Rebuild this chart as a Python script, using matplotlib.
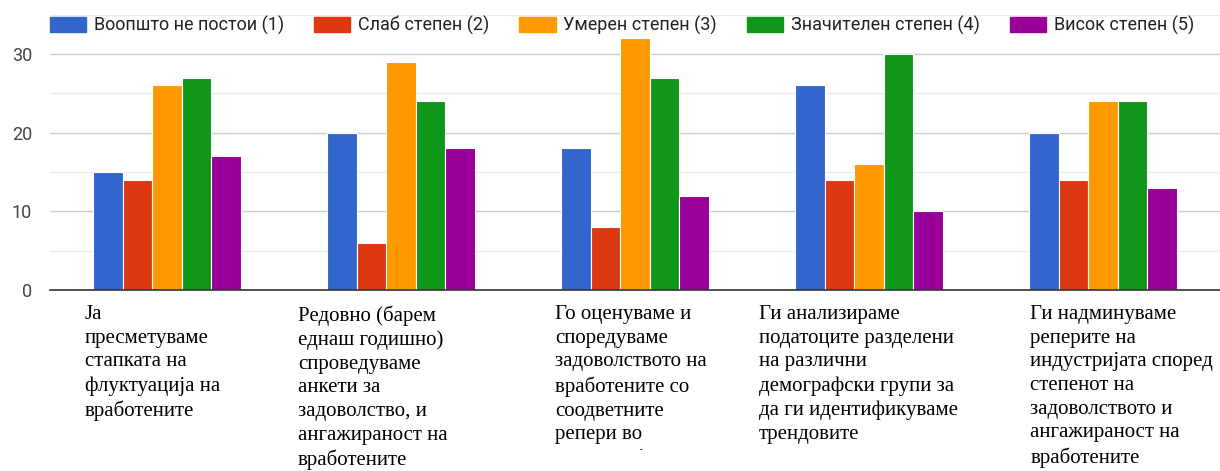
import numpy as np
import matplotlib
matplotlib.use('Agg')
import matplotlib.pyplot as plt
from matplotlib.patches import Patch
from matplotlib.transforms import Bbox, TransformedBbox

# Data
categories = [
    'Ја\nпресметуваме\nстапката на\nфлуктуација на\nвработените',
    'Редовно (барем\nеднаш годишно)\nспроведуваме\nанкети за\nзадоволство, и\nангажираност на\nвработените',
    'Го оценуваме и\nспоредуваме\nзадоволството на\nвработените со\nсоодветните\nрепери во\nиндустријата',
    'Ги анализираме\nподатоците разделени\nна различни\nдемографски групи за\nда ги идентификуваме\nтрендовите',
    'Ги надминуваме\nреперите на\nиндустријата според\nстепенот на\nзадоволството и\nангажираност на\nвработените',
]
series_names = ['Воопшто не постои (1)', 'Слаб степен (2)', 'Умерен степен (3)',
                'Значителен степен (4)', 'Висок степен (5)']
values = [
    [15, 20, 18, 26, 20],   # (1)
    [14, 6, 8, 14, 14],     # (2)
    [26, 29, 32, 16, 24],   # (3)
    [27, 24, 27, 30, 24],   # (4)
    [17, 18, 12, 10, 13],   # (5)
]
colors = ['#3366cc', '#dc3912', '#ff9900', '#109618', '#990099']

# label left offsets relative to group center (in group units)
label_offsets = [-0.35, -0.44, -0.34, -0.47, -0.31]
# which labels get cut off at the bottom edge (like the original)
label_clipped = [False, False, True, False, False]

W, H = 1220, 471
fig = plt.figure(figsize=(W / 100, H / 100), dpi=100)
ax = fig.add_axes([50 / W, (H - 290) / H, 1 - 50 / W, (290 - 14.7) / H])

x = np.arange(len(categories)) + 0.5
bw = 0.126
for i, (name, vals) in enumerate(zip(series_names, values)):
    ax.bar(x + (i - 2) * bw, vals, width=bw, color=colors[i], edgecolor='white',
           linewidth=0.8, zorder=3, label=name)

ax.set_xlim(0, 5)
ax.set_ylim(0, 35)
ax.set_yticks([0, 10, 20, 30])
ax.set_yticks([5, 15, 25, 35], minor=True)
ax.grid(axis='y', which='major', color='#cccccc', linewidth=1, zorder=0)
ax.grid(axis='y', which='minor', color='#ebebeb', linewidth=1, zorder=0)
ax.tick_params(axis='y', which='both', length=0, labelsize=13, labelcolor='#444444', pad=13)
ax.set_xticks([])
for s in ['top', 'right', 'left']:
    ax.spines[s].set_visible(False)
ax.spines['bottom'].set_color('#333333')
ax.spines['bottom'].set_linewidth(1.2)
ax.spines['bottom'].set_zorder(4)
for lbl in ax.get_yticklabels():
    lbl.set_fontfamily('Roboto')

clip = TransformedBbox(Bbox([[0, (H - 450) / H], [1, 1]]), fig.transFigure)
for xc, off, cat, cut in zip(x, label_offsets, categories, label_clipped):
    t = ax.text(xc + off, -0.055, cat, transform=ax.get_xaxis_transform(),
                ha='left', va='top', fontsize=15, family='Liberation Serif',
                color='#000000', linespacing=1.33)
    if cut:
        t.set_clip_path(None)
        t.set_clip_box(clip)
        t.set_clip_on(True)

handles = [Patch(facecolor=c, edgecolor=c) for c in colors]
leg = fig.legend(handles, series_names, loc='center left', bbox_to_anchor=(50 / W, 1 - 25 / H),
                 ncol=5, frameon=False, borderpad=0, borderaxespad=0,
                 handlelength=2.0, handleheight=0.89, columnspacing=1.66, handletextpad=0.44,
                 prop={'family': 'Roboto', 'size': 13})
for t in leg.get_texts():
    t.set_color('#222222')

fig.savefig('out.png', dpi=100)
